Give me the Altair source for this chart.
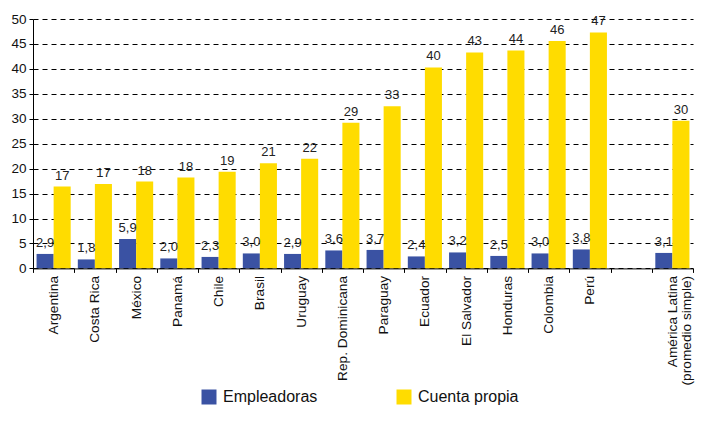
import altair as alt
import pandas as pd

countries = ["Argentina", "Costa Rica", "México", "Panamá", "Chile", "Brasil",
             "Uruguay", "Rep. Dominicana", "Paraguay", "Ecuador", "El Salvador",
             "Honduras", "Colombia", "Perú", " ", "América Latina|(promedio simple)"]
series = ["Empleadoras", "Cuenta propia"]

empleadoras = [2.9, 1.8, 5.9, 2.0, 2.3, 3.0, 2.9, 3.6, 3.7, 2.4, 3.2, 2.5, 3.0, 3.8, None, 3.1]
empleadoras_lbl = ["2,9", "1,8", "5,9", "2,0", "2,3", "3,0", "2,9", "3,6", "3,7", "2,4",
                   "3,2", "2,5", "3,0", "3,8", "", "3,1"]
cuenta_propia = [16.4, 16.9, 17.4, 18.2, 19.4, 21.1, 22.0, 29.2, 32.5, 40.3, 43.3, 43.7,
                 45.6, 47.3, None, 29.6]
cuenta_propia_lbl = ["17", "17", "18", "18", "19", "21", "22", "29", "33", "40", "43",
                     "44", "46", "47", "", "30"]

rows = []
for i, c in enumerate(countries):
    rows.append({"pais": c, "serie": series[0], "valor": empleadoras[i], "etiqueta": empleadoras_lbl[i]})
    rows.append({"pais": c, "serie": series[1], "valor": cuenta_propia[i], "etiqueta": cuenta_propia_lbl[i]})
df = pd.DataFrame(rows)

FONT = "Liberation Sans"

x = alt.X("pais:N", sort=None,
          scale=alt.Scale(domain=countries, paddingInner=0, paddingOuter=0),
          axis=alt.Axis(title=None, labelAngle=-90, tickBand="extent",
                        labelExpr="split(datum.label, '|')",
                        labelFont=FONT, labelFontSize=13.7, labelColor="#111",
                        labelLineHeight=14, labelPadding=3,
                        tickColor="#000", tickSize=4, domainColor="#000",
                        grid=False, zindex=1))
xo = alt.XOffset("serie:N",
                 scale=alt.Scale(domain=series, paddingOuter=0.2086, paddingInner=0))
y = alt.Y("valor:Q",
          scale=alt.Scale(domain=[0, 50], nice=False, zero=True),
          axis=alt.Axis(title=None, values=list(range(0, 51, 5)), grid=True,
                        gridDash=[5, 4], gridColor="#000", gridOpacity=1, gridWidth=1,
                        tickColor="#000", tickSize=4, domainColor="#000",
                        labelFont=FONT, labelFontSize=13.5, labelColor="#111",
                        labelPadding=3))
color = alt.Color("serie:N",
                  scale=alt.Scale(domain=series, range=["#3A52A3", "#FFDC00"]),
                  legend=alt.Legend(title=None, orient="none", direction="horizontal",
                                    legendX=168, legendY=370, symbolType="square",
                                    symbolSize=225, symbolStrokeWidth=0,
                                    labelFont=FONT, labelFontSize=16, labelColor="#111",
                                    labelOffset=6, columnPadding=78, padding=0))

bars = alt.Chart(df).mark_bar().encode(x=x, xOffset=xo, y=y, color=color)
labels = alt.Chart(df).mark_text(baseline="bottom", dy=-4, font=FONT, fontSize=13,
                                 color="#222").encode(
    x=x, xOffset=xo, y=y, text="etiqueta:N")

chart = (bars + labels).properties(
    width=660, height=249.4,
    autosize=alt.AutoSizeParams(type="none"),
    padding={"left": 25, "top": 11, "right": 3, "bottom": 138.6},
).configure_view(stroke=None)

chart.save("out.html", embed_options={"renderer": "svg", "actions": False})
